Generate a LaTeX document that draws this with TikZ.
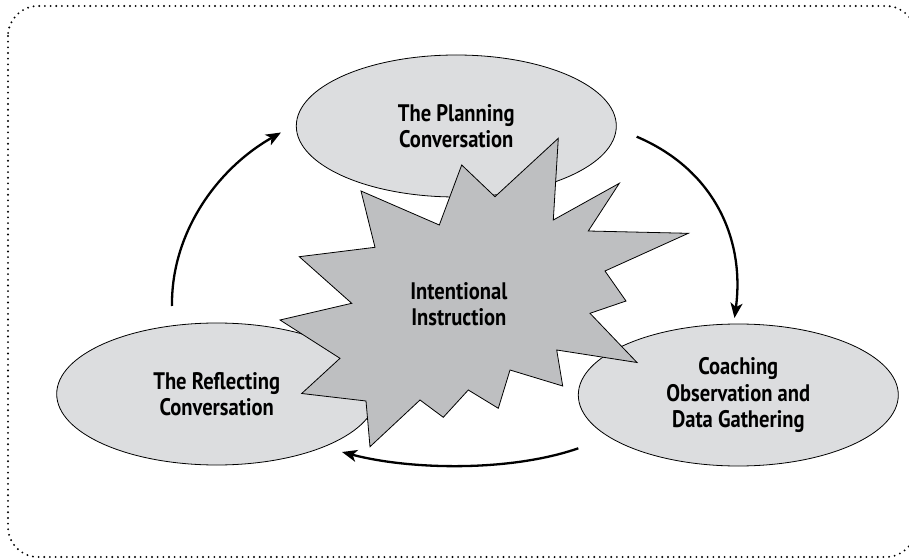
\documentclass[tikz,border=0pt]{standalone}
\usepackage{fontspec}
\newfontfamily\lblfont{PT Sans}[FakeStretch=0.86]
\usetikzlibrary{arrows.meta,shapes.geometric}
\definecolor{ellfill}{RGB}{220,221,223}
\definecolor{starfill}{RGB}{190,191,193}
\tikzset{
  phase/.style={ellipse, draw=black, line width=0.8bp, fill=ellfill,
    minimum width=320bp, minimum height=142bp, inner sep=0pt,
    align=center, font=\lblfont\bfseries\fontsize{24}{26.7}\selectfont},
  startext/.style={align=center, inner sep=0pt, font=\lblfont\bfseries\fontsize{24}{26.7}\selectfont},
  cyclearrow/.style={line width=2.3bp, -{Stealth[length=15bp,width=12bp,inset=4bp]}},
  frame/.style={line width=2.1bp, line cap=round, dash pattern=on 0pt off 5.67bp, rounded corners=30bp}
}
\begin{document}
\begin{tikzpicture}[x=1bp,y=-1bp]
\useasboundingbox (0,0) rectangle (909,559);
\draw[frame] (8,6) rectangle (916,557);

\node[phase] (plan) at (456.3,126) {The Planning\\Conversation};
\node[phase] (refl) at (216.7,394) {The Reflecting\\Conversation};
\node[phase] (coach) at (738.3,395) {Coaching\\Observation and\\Data Gathering};

\draw[line width=0.8bp, fill=starfill, line join=miter]
 (558.3,138.3) -- (553.3,220) -- (619.3,183.3) -- (588.3,231) -- (688.3,233.3)
 -- (605,271) -- (626,301) -- (590,313.3) -- (637,362.5) -- (556.7,350)
 -- (562.7,386) -- (510,370) -- (498.3,408.3) -- (468.3,390) -- (443.3,417.3)
 -- (420,400) -- (370,446.7) -- (366,401) -- (301.7,393.5) -- (340,358.3)
 -- (280,320) -- (351.7,303.3) -- (299.3,256.7) -- (375,247.3) -- (361,191)
 -- (439.3,225) -- (461.7,165) -- (495,196.7) -- cycle;
\node[startext] (center) at (458.8,304) {Intentional\\Instruction};

\coordinate (a1s) at (172,306);
\coordinate (a1e) at (281,132.5);
\coordinate (a2s) at (636.7,136.7);
\coordinate (a2e) at (734.5,318);
\coordinate (a3s) at (578.3,448.3);
\coordinate (a3e) at (342,452);

\draw[cyclearrow] (a1s) .. controls (171,235) and (215,170) .. (a1e);
\draw[cyclearrow] (a2s) .. controls (715,170) and (745,240) .. (a2e);
\draw[cyclearrow] (a3s) .. controls (510,472) and (410,470) .. (a3e);
\end{tikzpicture}
\end{document}
